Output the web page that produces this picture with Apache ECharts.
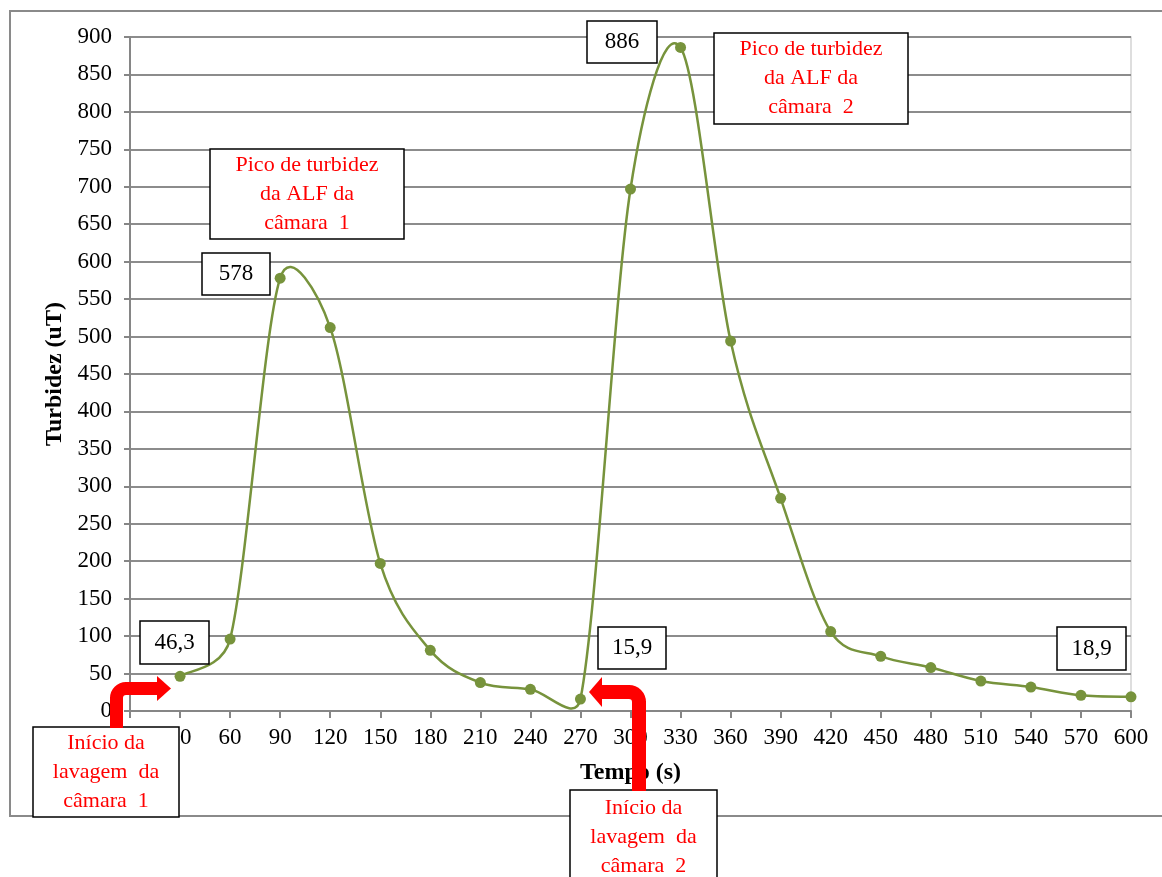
<!DOCTYPE html>
<html>
<head>
<meta charset="utf-8">
<script src="https://cdn.jsdelivr.net/npm/echarts@6/dist/echarts.min.js"></script>
<style>
html,body{margin:0;padding:0;background:#fff;}
#chart{width:1162px;height:877px;}
</style>
</head>
<body>
<div id="chart"></div>
<script>
// ---- data ----
var tempo = [30, 60, 90, 120, 150, 180, 210, 240, 270, 300, 330, 360, 390, 420, 450, 480, 510, 540, 570, 600];
var turbidez = [46.3, 96, 578, 512, 197, 81, 38, 29, 15.9, 697, 886, 494, 284, 106, 73, 58, 40, 32, 21, 18.9];
var xTicks = [0, 600, 30];   // min, max, interval
var yTicks = [0, 900, 50];   // min, max, interval
var labels = [
  {text: '46,3', box: [140, 621, 69, 43]},
  {text: '578', box: [202, 253, 68, 42]},
  {text: '15,9', box: [598, 627, 68, 42]},
  {text: '886', box: [587, 21, 70, 42]},
  {text: '18,9', box: [1057, 627, 69, 43]}
];
var notes = [
  {text: 'Pico de turbidez\nda ALF da\ncâmara  1', box: [210, 149, 194, 90]},
  {text: 'Pico de turbidez\nda ALF da\ncâmara  2', box: [714, 33, 194, 91]},
  {text: 'Início da\nlavagem  da\ncâmara  1', box: [33, 727, 146, 90]},
  {text: 'Início da\nlavagem  da\ncâmara  2', box: [570, 790, 147, 95]}
];

var FONT = "'Liberation Serif', 'Times New Roman', serif";
var GREEN = '#77933C';
var chart = echarts.init(document.getElementById('chart'));

var pts = tempo.map(function (t, i) { return [t, turbidez[i]]; });
var segs = tempo.slice(0, tempo.length - 1).map(function (t, i) { return [t, turbidez[i], i]; });

var graphics = [];
graphics.push({type: 'rect', z: 0, shape: {x: 10, y: 11, width: 1170, height: 805},
  style: {fill: 'none', stroke: '#8a8a8a', lineWidth: 2}, silent: true});

function box(b, txt, color, lh, fs) {
  graphics.push({type: 'rect', z: 100, shape: {x: b[0], y: b[1], width: b[2], height: b[3]},
    style: {fill: '#fff', stroke: '#000', lineWidth: 1.5}});
  graphics.push({type: 'text', z: 101, x: b[0] + b[2] / 2, y: b[1] + b[3] / 2,
    style: {text: txt, fill: color, font: fs + 'px ' + FONT, textAlign: 'center', textVerticalAlign: 'middle', lineHeight: lh}});
}
labels.forEach(function (l) { box(l.box, l.text, '#000', 24, 23); });

var RED = '#ff0000';
function addArrow(parts) { parts.forEach(function (p) { p.z = 102; graphics.push(p); }); }
addArrow([
  {type: 'rect', shape: {x: 110, y: 697, width: 13, height: 31}, style: {fill: RED}},
  {type: 'sector', shape: {cx: 126, cy: 698, r: 16, r0: 3, startAngle: Math.PI, endAngle: Math.PI * 1.5, clockwise: true}, style: {fill: RED}},
  {type: 'rect', shape: {x: 125, y: 682, width: 33, height: 13}, style: {fill: RED}},
  {type: 'polygon', shape: {points: [[157, 676], [171, 688.5], [157, 701]]}, style: {fill: RED}}
]);
addArrow([
  {type: 'rect', shape: {x: 632, y: 701, width: 14, height: 90}, style: {fill: RED}},
  {type: 'sector', shape: {cx: 629, cy: 702, r: 17, r0: 3, startAngle: Math.PI * 1.5, endAngle: Math.PI * 2, clockwise: true}, style: {fill: RED}},
  {type: 'rect', shape: {x: 601, y: 685, width: 29, height: 14}, style: {fill: RED}},
  {type: 'polygon', shape: {points: [[602, 677], [589, 692], [602, 707]]}, style: {fill: RED}}
]);

notes.forEach(function (n) { box(n.box, n.text, RED, 29, 22); });

// smoothed curve (Catmull-Rom style Bezier, handles capped at half the adjacent chord)
var CAP = 0.5;
function renderSeg(params, api) {
  var i = api.value(2);
  var n = tempo.length;
  function P(k) { k = Math.max(0, Math.min(n - 1, k)); return api.coord([tempo[k], turbidez[k]]); }
  function dist(a, b) { return Math.sqrt((a[0] - b[0]) * (a[0] - b[0]) + (a[1] - b[1]) * (a[1] - b[1])); }
  function handle(k, chord) {
    var a = P(k - 1), b = P(k + 1);
    var h = [(b[0] - a[0]) / 6, (b[1] - a[1]) / 6];
    var len = Math.sqrt(h[0] * h[0] + h[1] * h[1]);
    var cap = CAP * chord;
    if (len > cap && len > 0) { h = [h[0] * cap / len, h[1] * cap / len]; }
    return h;
  }
  var p1 = P(i), p2 = P(i + 1);
  var ch = dist(p1, p2);
  var h1 = handle(i, ch), h2 = handle(i + 1, ch);
  return {
    type: 'bezierCurve',
    shape: {x1: p1[0], y1: p1[1], x2: p2[0], y2: p2[1],
      cpx1: p1[0] + h1[0], cpy1: p1[1] + h1[1], cpx2: p2[0] - h2[0], cpy2: p2[1] - h2[1]},
    style: {stroke: GREEN, lineWidth: 2.5, fill: 'none'}
  };
}

var option = {
  backgroundColor: '#fff',
  animation: false,
  textStyle: {fontFamily: FONT},
  grid: {left: 130, right: 31, top: 37, bottom: 166, show: true, borderColor: '#d4d4d4', borderWidth: 1.5, containLabel: false},
  xAxis: {
    type: 'value', min: xTicks[0], max: xTicks[1], interval: xTicks[2],
    name: 'Tempo (s)', nameLocation: 'middle', nameGap: 50,
    nameTextStyle: {fontFamily: FONT, fontSize: 24, fontWeight: 'bold', color: '#000'},
    axisLine: {show: true, lineStyle: {color: '#868686', width: 2}},
    axisTick: {show: true, length: 7, lineStyle: {color: '#868686', width: 2}},
    axisLabel: {fontFamily: FONT, fontSize: 23, color: '#000', margin: 15},
    splitLine: {show: false}
  },
  yAxis: {
    type: 'value', min: yTicks[0], max: yTicks[1], interval: yTicks[2],
    name: 'Turbidez (uT)', nameLocation: 'middle', nameGap: 58, nameRotate: 90,
    nameTextStyle: {fontFamily: FONT, fontSize: 24, fontWeight: 'bold', color: '#000'},
    axisLine: {show: true, lineStyle: {color: '#868686', width: 2}},
    axisTick: {show: true, length: 6, lineStyle: {color: '#868686', width: 2}},
    axisLabel: {fontFamily: FONT, fontSize: 23, color: '#000', margin: 18},
    splitLine: {show: true, lineStyle: {color: '#8c8c8c', width: 2}}
  },
  series: [{
    type: 'custom',
    data: segs,
    encode: {x: 0, y: 1},
    renderItem: renderSeg,
    clip: false,
    z: 4
  }, {
    type: 'scatter',
    data: pts,
    symbol: 'circle',
    symbolSize: 11,
    itemStyle: {color: GREEN, opacity: 1},
    z: 5
  }],
  graphic: graphics
};
chart.setOption(option);
</script>
</body>
</html>
